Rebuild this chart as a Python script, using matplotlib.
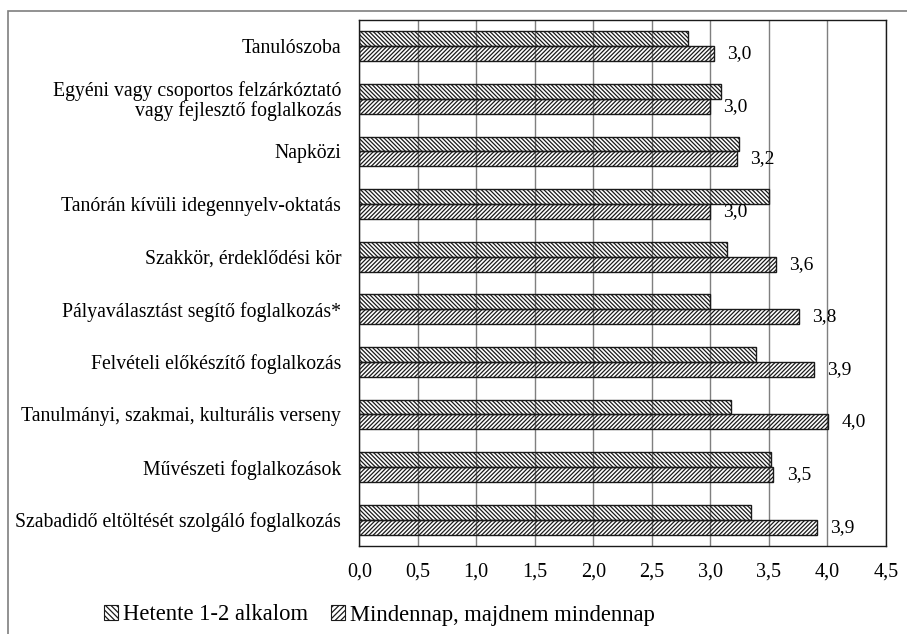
import matplotlib
matplotlib.use("Agg")
import matplotlib.pyplot as plt
from matplotlib.patches import Patch, Rectangle
import numpy as np

categories = [
    "Tanulószoba",
    "Egyéni vagy csoportos felzárkóztató\nvagy fejlesztő foglalkozás",
    "Napközi",
    "Tanórán kívüli idegennyelv-oktatás",
    "Szakkör, érdeklődési kör",
    "Pályaválasztást segítő foglalkozás*",
    "Felvételi előkészítő foglalkozás",
    "Tanulmányi, szakmai, kulturális verseny",
    "Művészeti foglalkozások",
    "Szabadidő eltöltését szolgáló foglalkozás",
]
weekly = [2.81, 3.09, 3.25, 3.50, 3.14, 3.00, 3.39, 3.18, 3.52, 3.35]
daily = [3.03, 3.00, 3.23, 3.00, 3.56, 3.76, 3.89, 4.01, 3.54, 3.91]
series_names = ["Hetente 1-2 alkalom", "Mindennap, majdnem mindennap"]
xticks = [0.0, 0.5, 1.0, 1.5, 2.0, 2.5, 3.0, 3.5, 4.0, 4.5]

plt.rcParams["font.family"] = ["Liberation Serif", "DejaVu Serif"]
plt.rcParams["hatch.linewidth"] = 0.9
plt.rcParams["hatch.color"] = "#2a2a2a"

HATCH_WEEKLY = "\\" * 8
HATCH_DAILY = "/" * 8

fig = plt.figure(figsize=(9.07, 6.34), dpi=100)
# outer frame around the whole chart
fig.patches.append(Rectangle((8 / 907, -0.05), 1.2, 1 - 11 / 634 + 0.05,
                             transform=fig.transFigure, fill=False,
                             edgecolor="#7f7f7f", linewidth=1.2))

ax = fig.add_axes([359.3 / 907, 1 - 546 / 634, (885.7 - 359.3) / 907, (546 - 20) / 634])

y = np.arange(len(categories))
h = 0.285
ax.barh(y - h / 2, weekly, height=h, facecolor="none", edgecolor="#1a1a1a",
        linewidth=1.0, hatch=HATCH_WEEKLY, zorder=2)
ax.barh(y + h / 2, daily, height=h, facecolor="none", edgecolor="#1a1a1a",
        linewidth=1.0, hatch=HATCH_DAILY, zorder=2)

for yi, v in zip(y, daily):
    ax.annotate(f"{v:.1f}".replace(".", ","), (v, yi + h / 2),
                xytext=(9.5, 0), textcoords="offset points",
                ha="left", va="center", fontsize=14)

ax.set_xlim(0, 4.5)
ax.set_ylim(len(categories) - 0.5, -0.5)
ax.set_xticks(xticks)
ax.set_xticklabels([f"{t:.1f}".replace(".", ",") for t in xticks], fontsize=14.5)
ax.set_yticks(y)
ax.set_yticklabels(categories, fontsize=14.2, linespacing=1.0)
ax.tick_params(axis="both", length=0)
ax.tick_params(axis="x", pad=12)
ax.tick_params(axis="y", pad=13)

ax.grid(axis="x", color="#7f7f7f", linewidth=1.0, zorder=1)
ax.set_axisbelow(True)
for s in ax.spines.values():
    s.set_color("#1a1a1a")
    s.set_linewidth(1.0)

handles = [
    Patch(facecolor="white", edgecolor="#1a1a1a", hatch="\\" * 6, linewidth=0.8),
    Patch(facecolor="white", edgecolor="#1a1a1a", hatch="/" * 6, linewidth=0.8),
]
fig.legend(handles, series_names, loc="center left",
           bbox_to_anchor=(104 / 907, 1 - 615 / 634), ncol=2, frameon=False,
           fontsize=16.3, handlelength=0.6, handleheight=0.6,
           handletextpad=0.25, columnspacing=1.0, borderpad=0, borderaxespad=0)

fig.savefig("out.png", dpi=100)
